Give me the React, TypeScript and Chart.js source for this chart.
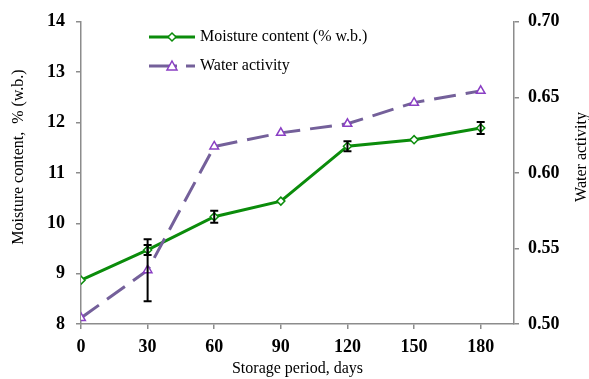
import React, { useEffect, useRef } from "react";
import { Chart, registerables } from "chart.js";

Chart.register(...registerables);

const days = [0, 30, 60, 90, 120, 150, 180];
const moisture = [8.87, 9.47, 10.13, 10.44, 11.53, 11.66, 11.89];
const moistureErr = [0, 0.1, 0.12, 0, 0.1, 0, 0.12];
const waterActivity = [0.504, 0.5356, 0.6175, 0.6265, 0.6325, 0.6465, 0.6543];
const waterActivityErr = [0, 0.0205, 0, 0, 0, 0, 0];
const xTicks = [0, 30, 60, 90, 120, 150, 180];
const leftTicks = [8, 9, 10, 11, 12, 13, 14];
const rightTicks = [0.5, 0.55, 0.6, 0.65, 0.7];
const leftTitle = "Moisture content,  % (w.b.)";
const rightTitle = "Water activity";
const bottomTitle = "Storage period, days";
const seriesNames = ["Moisture content (% w.b.)", "Water activity"];

const GREEN = "#0b8c0b";
const PURPLE_LINE = "#74609a";
const PURPLE_MARK = "#8a3fc4";
const AXIS = "#8c8c8c";
const SERIF = "'Liberation Serif', 'Times New Roman', serif";

const errorBars = {
  id: "errorBars",
  afterDatasetsDraw(chart: any) {
    const ctx = chart.ctx;
    const x = chart.scales.x;
    const sets = [
      { scale: chart.scales.y, vals: moisture, errs: moistureErr },
      { scale: chart.scales.y2, vals: waterActivity, errs: waterActivityErr },
    ];
    ctx.save();
    ctx.strokeStyle = "#000";
    ctx.lineWidth = 2;
    sets.forEach(({ scale, vals, errs }) => {
      vals.forEach((v, i) => {
        const e = errs[i];
        if (!e) return;
        const px = x.getPixelForValue(days[i]);
        const top = scale.getPixelForValue(v + e);
        const bot = scale.getPixelForValue(v - e);
        ctx.beginPath();
        ctx.moveTo(px, top);
        ctx.lineTo(px, bot);
        ctx.moveTo(px - 4, top);
        ctx.lineTo(px + 4, top);
        ctx.moveTo(px - 4, bot);
        ctx.lineTo(px + 4, bot);
        ctx.stroke();
      });
    });
    ctx.restore();
  },
};

const legendPlugin = {
  id: "customLegend",
  afterDraw(chart: any) {
    const ctx = chart.ctx;
    ctx.save();
    // entry 1
    ctx.strokeStyle = GREEN;
    ctx.lineWidth = 3;
    ctx.beginPath();
    ctx.moveTo(149, 37);
    ctx.lineTo(195, 37);
    ctx.stroke();
    ctx.lineWidth = 1.5;
    ctx.fillStyle = "#fff";
    ctx.beginPath();
    ctx.moveTo(172, 33);
    ctx.lineTo(176, 37);
    ctx.lineTo(172, 41);
    ctx.lineTo(168, 37);
    ctx.closePath();
    ctx.fill();
    ctx.stroke();
    // entry 2
    ctx.strokeStyle = PURPLE_LINE;
    ctx.lineWidth = 3;
    ctx.beginPath();
    ctx.moveTo(149, 66);
    ctx.lineTo(177, 66);
    ctx.moveTo(186, 66);
    ctx.lineTo(195, 66);
    ctx.stroke();
    ctx.strokeStyle = PURPLE_MARK;
    ctx.lineWidth = 1.5;
    ctx.beginPath();
    ctx.moveTo(172, 61);
    ctx.lineTo(177, 70);
    ctx.lineTo(167, 70);
    ctx.closePath();
    ctx.fill();
    ctx.stroke();
    ctx.fillStyle = "#000";
    ctx.font = `16px ${SERIF}`;
    ctx.textBaseline = "middle";
    ctx.textAlign = "left";
    ctx.fillText(seriesNames[0], 200, 37);
    ctx.fillText(seriesNames[1], 200, 66);
    // vertical axis titles (both read bottom-to-top)
    ctx.textAlign = "center";
    ctx.save();
    ctx.translate(19, 157);
    ctx.rotate(-Math.PI / 2);
    ctx.fillText(leftTitle, 0, 0);
    ctx.restore();
    ctx.save();
    ctx.translate(582, 157);
    ctx.rotate(-Math.PI / 2);
    ctx.fillText(rightTitle, 0, 0);
    ctx.restore();
    ctx.restore();
  },
};

export default function App() {
  const ref = useRef<HTMLCanvasElement>(null);
  useEffect(() => {
    if (!ref.current) return;
    const tickFont = { family: SERIF, size: 18, weight: "bold" };
    const titleFont = { family: SERIF, size: 16, lineHeight: 1 };
    const chart = new Chart(ref.current, {
      type: "line",
      data: {
        datasets: [
          {
            label: seriesNames[1],
            data: days.map((d, i) => ({ x: d, y: waterActivity[i] })),
            yAxisID: "y2",
            borderColor: PURPLE_LINE,
            borderWidth: 3,
            borderDash: [22, 10],
            pointStyle: "triangle",
            pointRadius: 5,
            pointBorderColor: PURPLE_MARK,
            pointBackgroundColor: "#fff",
            pointBorderWidth: 1.5,
            tension: 0,
          },
          {
            label: seriesNames[0],
            data: days.map((d, i) => ({ x: d, y: moisture[i] })),
            yAxisID: "y",
            borderColor: GREEN,
            borderWidth: 3,
            pointStyle: "rectRot",
            pointRadius: 4,
            pointBorderColor: GREEN,
            pointBackgroundColor: "#fff",
            pointBorderWidth: 1.5,
            tension: 0,
          },
        ],
      },
      options: {
        responsive: false,
        animation: false,
        layout: { padding: { top: 21, left: 0, right: 0, bottom: 0 } },
        plugins: { legend: { display: false }, tooltip: { enabled: false } },
        scales: {
          x: {
            type: "linear",
            min: 0,
            max: 195,
            afterBuildTicks: (s: any) => {
              s.ticks = xTicks.map((v) => ({ value: v }));
            },
            afterFit: (s: any) => {
              s.height = 55;
            },
            grid: { drawOnChartArea: false, tickLength: 5, color: AXIS, lineWidth: 1.5 },
            border: { color: AXIS, width: 1.5 },
            ticks: { color: "#000", padding: 8, maxRotation: 0, font: tickFont },
            title: {
              display: true,
              text: bottomTitle,
              color: "#000",
              font: titleFont,
              padding: { top: 0, bottom: 2 },
            },
          },
          y: {
            type: "linear",
            position: "left",
            min: 8,
            max: 14,
            afterBuildTicks: (s: any) => {
              s.ticks = leftTicks.map((v) => ({ value: v }));
            },
            afterFit: (s: any) => {
              s.width = 81;
            },
            grid: { drawOnChartArea: false, tickLength: 5, color: AXIS, lineWidth: 1.5 },
            border: { color: AXIS, width: 1.5 },
            ticks: { color: "#000", padding: 11, font: tickFont },
            title: { display: false },
          },
          y2: {
            type: "linear",
            position: "right",
            min: 0.5,
            max: 0.7,
            afterBuildTicks: (s: any) => {
              s.ticks = rightTicks.map((v) => ({ value: v }));
            },
            afterFit: (s: any) => {
              s.width = 75;
            },
            grid: { drawOnChartArea: false, tickLength: 5, color: AXIS, lineWidth: 1.5 },
            border: { color: AXIS, width: 1.5 },
            ticks: {
              color: "#000",
              padding: 9,
              callback: (v: any) => Number(v).toFixed(2),
              font: tickFont,
            },
            title: { display: false },
          },
        },
      },
      plugins: [errorBars, legendPlugin],
    } as any);
    return () => chart.destroy();
  }, []);
  return (
    <div style={{ position: "absolute", left: 0, top: 0, width: 589, height: 379, background: "#fff" }}>
      <canvas ref={ref} width={589} height={379} style={{ display: "block" }} />
    </div>
  );
}
